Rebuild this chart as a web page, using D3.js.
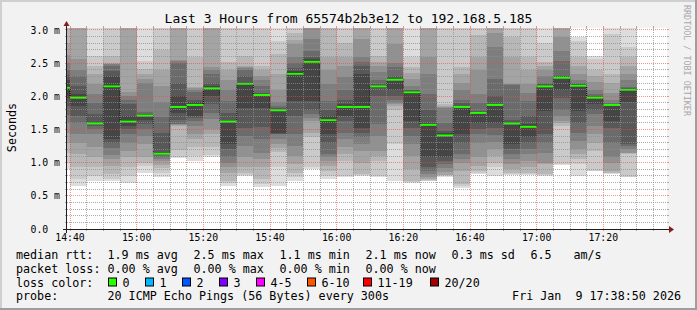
<!DOCTYPE html>
<html><head><meta charset="utf-8">
<script src="https://cdn.jsdelivr.net/npm/d3@7/dist/d3.min.js"></script>
<style>
html,body{margin:0;padding:0;background:#f2f2f2;}
svg{display:block;}
text{font-family:"DejaVu Sans Mono",monospace;white-space:pre;}
</style></head><body>
<script>
// ---------------- data ----------------
const title = "Last 3 Hours from 65574b2b3e12 to 192.168.5.185";
const windowStart = new Date(2026,0,9,14,39,6);
const windowEnd   = new Date(2026,0,9,17,39,6);
const firstBar    = new Date(2026,0,9,14,35,0);
const stepMinutes = 5;

// median rtt per 5-minute step (ms)
const medians = [2.13,1.98,1.59,2.15,1.62,1.71,1.135,1.84,1.87,2.12,1.62,2.19,2.02,1.79,2.34,2.52,1.64,1.84,
                 1.84,2.15,2.25,2.06,1.57,1.41,1.84,1.75,1.87,1.59,1.54,2.15,2.28,2.16,1.98,1.87,2.10];

// 20 sorted ping rtts per step (ms), used for the smoke
const pings = [
[0.90,1.00,1.15,1.30,1.45,1.60,1.72,1.85,1.98,2.10,2.16,2.24,2.32,2.40,2.50,2.62,2.80,3.10,3.20,3.30],
[0.65,0.75,0.93,1.13,1.30,1.43,1.60,1.70,1.85,1.97,1.99,2.04,2.15,2.30,2.39,2.56,3.10,3.20,3.30,3.40],
[0.73,0.80,0.93,1.08,1.23,1.43,1.50,1.55,1.57,1.58,1.60,1.62,1.74,1.90,2.04,2.19,2.34,2.45,2.61,3.20],
[0.73,0.76,0.83,0.95,1.05,1.12,1.22,1.30,1.35,2.12,2.17,2.30,2.38,2.46,2.48,2.49,2.50,2.61,3.10,3.20],
[0.70,0.80,0.93,1.08,1.18,1.30,1.43,1.50,1.56,1.60,1.64,1.70,1.88,1.95,2.00,2.06,3.10,3.20,3.30,3.40],
[0.85,0.95,1.00,1.08,1.28,1.40,1.50,1.58,1.65,1.70,1.72,1.73,1.74,1.76,2.20,2.26,2.33,2.41,2.54,3.20],
[0.79,0.85,0.92,0.97,1.02,1.06,1.09,1.11,1.12,1.13,1.14,1.16,1.44,1.69,1.92,2.15,2.40,2.70,3.10,3.20],
[1.07,1.09,1.19,1.55,1.57,1.58,1.59,1.65,1.75,1.83,1.86,2.00,2.20,2.50,2.53,2.55,3.10,3.20,3.30,3.40],
[1.03,1.10,1.23,1.35,1.43,1.55,1.63,1.68,1.71,1.86,1.88,1.91,1.95,2.06,2.10,2.12,2.14,2.59,3.10,3.20],
[1.08,1.12,1.23,1.43,1.50,1.66,1.75,1.88,2.00,2.11,2.13,2.15,2.20,2.34,2.40,2.44,3.10,3.20,3.30,3.40],
[0.65,0.70,0.73,0.85,0.93,1.00,1.08,1.20,1.28,1.61,1.63,1.65,1.75,1.93,2.10,2.24,2.40,2.51,3.10,3.20],
[0.80,0.82,0.85,0.93,1.08,1.25,1.40,1.53,1.83,2.18,2.20,2.22,2.30,2.40,2.42,2.44,2.46,2.61,3.10,3.20],
[0.64,0.68,0.75,0.94,1.05,1.14,1.35,1.54,1.82,2.01,2.03,2.04,2.05,2.15,2.25,2.30,2.40,2.45,3.10,3.20],
[0.65,0.93,1.16,1.22,1.28,1.35,1.43,1.43,1.44,1.78,1.80,1.81,1.82,1.85,1.91,2.10,2.34,2.64,2.84,3.20],
[0.73,0.78,0.85,0.98,1.10,1.25,1.43,1.70,1.93,2.33,2.36,2.38,2.42,2.50,2.59,2.79,2.85,2.95,3.10,3.20],
[0.90,0.93,1.38,1.45,1.63,1.68,1.73,1.80,1.93,2.50,2.54,2.56,2.60,2.69,2.86,3.10,3.20,3.30,3.40,3.50],
[0.75,0.80,0.88,0.95,1.03,1.08,1.13,1.30,1.43,1.62,1.66,1.70,1.80,1.93,2.19,2.39,2.59,3.10,3.20,3.30],
[0.78,0.80,1.03,1.13,1.23,1.35,1.45,1.63,1.70,1.83,1.86,1.88,1.95,2.09,2.29,2.45,2.59,2.81,3.10,3.20],
[0.80,0.81,0.83,1.00,1.18,1.28,1.38,1.45,1.53,1.83,1.86,2.34,2.45,2.52,2.59,2.86,3.10,3.20,3.30,3.40],
[0.78,0.80,1.03,1.10,1.18,1.40,1.58,2.00,2.12,2.14,2.16,2.17,2.18,2.25,2.36,2.45,2.51,2.61,3.10,3.20],
[0.73,1.28,1.80,1.86,1.88,1.90,1.95,2.00,2.09,2.24,2.26,2.27,2.30,2.44,2.50,2.79,3.10,3.20,3.30,3.40],
[0.70,0.71,0.73,0.90,1.10,1.28,1.40,1.53,1.63,2.04,2.07,2.08,2.09,2.10,2.15,2.26,2.35,2.44,2.59,3.20],
[0.72,0.73,0.74,0.75,0.78,0.83,0.88,0.93,1.08,1.56,1.58,1.60,1.80,2.04,2.34,2.59,3.10,3.20,3.30,3.40],
[0.79,0.80,0.81,0.82,0.86,0.92,0.98,1.02,1.08,1.40,1.42,1.44,1.48,1.60,1.83,1.84,1.86,1.88,3.10,3.20],
[0.62,0.65,0.68,0.88,1.00,1.05,1.13,1.30,1.43,1.83,1.85,1.86,1.90,1.95,2.09,2.20,2.34,2.44,3.10,3.20],
[0.83,0.84,0.88,0.95,1.08,1.30,1.43,1.50,1.60,1.74,1.76,1.77,1.78,1.90,2.04,2.39,2.60,2.92,3.10,3.20],
[0.80,0.93,1.00,1.10,1.20,1.31,1.42,1.53,1.60,1.86,1.88,1.89,2.00,2.26,2.74,2.95,3.10,3.20,3.30,3.40],
[0.82,0.83,0.84,0.90,0.98,1.05,1.13,1.20,1.28,1.58,1.60,1.62,1.65,2.17,2.18,2.19,2.59,2.89,3.10,3.20],
[0.82,0.83,0.85,0.93,1.03,1.13,1.20,1.30,1.38,1.53,1.56,1.58,1.70,1.93,2.05,2.19,2.40,2.59,3.10,3.20],
[0.80,0.81,0.83,0.98,1.00,1.15,1.30,1.43,1.78,2.14,2.16,2.17,2.18,2.20,2.30,2.39,2.45,2.51,2.81,3.20],
[0.97,0.98,1.55,1.60,1.63,1.70,1.80,1.98,2.10,2.27,2.29,2.30,2.31,2.54,2.69,2.89,3.10,3.20,3.30,3.40],
[0.80,0.98,1.05,1.13,1.20,1.33,1.45,1.60,1.78,2.15,2.17,2.18,2.19,2.20,2.25,2.34,2.45,2.59,2.84,2.90],
[0.87,0.88,1.18,1.30,1.43,1.55,1.73,1.80,1.88,1.97,1.99,2.00,2.01,2.04,2.10,2.21,2.30,2.39,2.56,2.61],
[0.83,0.84,0.85,0.88,1.00,1.08,1.30,1.53,1.63,1.86,1.88,1.885,1.89,1.90,1.95,2.05,2.20,2.34,2.94,3.20],
[0.78,0.79,1.13,1.14,1.15,1.20,1.25,1.28,1.91,2.09,2.11,2.12,2.13,2.14,2.25,2.34,2.45,2.60,2.74,3.20]
];

const yTicks = [0,0.5,1,1.5,2,2.5,3];
const yTickLabels = ["0.0","0.5 m","1.0 m","1.5 m","2.0 m","2.5 m","3.0 m"];
const xTickLabels = ["14:40","15:00","15:20","15:40","16:00","16:20","16:40","17:00","17:20"];

const rttLabel = "median rtt:";
const rttStats = ["1.9 ms avg","2.5 ms max","1.1 ms min","2.1 ms now","0.3 ms sd"];
const amsStats = ["6.5","am/s"];
const lossLabel = "packet loss:";
const lossStats = ["0.00 % avg","0.00 % max","0.00 % min","0.00 % now"];
const lossColorLabel = "loss color:";
const lossLabels = ["0","1","2","3","4-5","6-10","11-19","20/20"];
const lossColors = ["#26ff00","#00b8ff","#0059ff","#7e00ff","#ff00ff","#ff5500","#ff0000","#a10000"];
const probeLabel = "probe:";
const probeText = "20 ICMP Echo Pings (56 Bytes) every 300s";
const stamp = "Fri Jan  9 17:38:50 2026";
const watermark = "RRDTOOL / TOBI OETIKER";
const unitLabel = "Seconds";

// ---------------- layout / style ----------------
const W = 697, H = 310;
const P = {l:67, r:667, t:28, b:229};
const SMOKE = ["#dddddd","#cacaca","#b7b7b7","#a4a4a4","#919191","#7e7e7e","#6b6b6b","#585858","#454545","#323232"];
const GRID = "rgba(143,143,143,0.75)", MGRID = "rgba(222,79,79,0.6)";
const AXIS = "#1f1f1f", ARROW = "#801f1f";

const svg = d3.select("body").append("svg").attr("width", W).attr("height", H);
svg.append("rect").attr("width", W).attr("height", H).attr("fill", "#f2f2f2");
// shade borders
svg.append("path").attr("d", `M0,0H${W}V2H2V${H}H0Z`).attr("fill", "#cfcfcf");
svg.append("path").attr("d", `M${W},0V${H}H0V${H-2}H${W-2}V0Z`).attr("fill", "#9e9e9e");

const x = d3.scaleTime().domain([windowStart, windowEnd]).range([P.l, P.r]);
const y = d3.scaleLinear().domain([0, 3.03]).range([P.b, P.t]);

svg.append("rect").attr("x", P.l).attr("y", P.t).attr("width", P.r-P.l).attr("height", P.b-P.t).attr("fill", "#fff");
svg.append("clipPath").attr("id","clip").append("rect")
  .attr("x", P.l).attr("y", P.t).attr("width", P.r-P.l).attr("height", P.b-P.t);

const bars = pings.map((p,i)=>({
  t0: d3.timeMinute.offset(firstBar, i*stepMinutes),
  t1: d3.timeMinute.offset(firstBar, (i+1)*stepMinutes),
  p, m: medians[i]
}));

const plot = svg.append("g").attr("clip-path","url(#clip)");
// smoke layers
bars.forEach(b=>{
  for (let i=0;i<10;i++){
    const lo = b.p[i], hi = b.p[19-i];
    plot.append("rect")
      .attr("x", x(b.t0)).attr("width", x(b.t1)-x(b.t0))
      .attr("y", y(hi)).attr("height", Math.max(0, y(lo)-y(hi)))
      .attr("fill", SMOKE[i]).attr("shape-rendering","crispEdges");
  }
});

// grid
const gridG = svg.append("g").attr("shape-rendering","crispEdges");
const minorX = d3.timeMinute.every(5).range(windowStart, windowEnd);
const isMajorT = d => d.getMinutes() % 20 === 0;
const px = v => Math.floor(v) + 0.5;
minorX.forEach(d=>{
  const xx = px(x(d)), c = isMajorT(d) ? MGRID : GRID;
  gridG.append("line").attr("x1",xx).attr("x2",xx).attr("y1",P.t).attr("y2",P.b)
    .attr("stroke", c).attr("stroke-dasharray","1,1");
  gridG.append("line").attr("x1",xx).attr("x2",xx).attr("y1",P.b).attr("y2",P.b+2).attr("stroke",c);
  gridG.append("line").attr("x1",xx).attr("x2",xx).attr("y1",P.t-2).attr("y2",P.t).attr("stroke",c);
});
const minorY = d3.range(1, 31).map(i=>i/10);
minorY.forEach(v=>{
  const major = Math.round(v*10) % 5 === 0;
  const yy = px(y(v)), c = major ? MGRID : GRID;
  gridG.append("line").attr("x1",P.l).attr("x2",P.r).attr("y1",yy).attr("y2",yy)
    .attr("stroke", c).attr("stroke-dasharray","1,1");
  gridG.append("line").attr("x1",P.l-2).attr("x2",P.l).attr("y1",yy).attr("y2",yy).attr("stroke",c);
  gridG.append("line").attr("x1",P.r).attr("x2",P.r+2).attr("y1",yy).attr("y2",yy).attr("stroke",c);
});

// median connector (dotted step) + median segments
const stepPts = bars.map(b=>[x(b.t0), y(b.m)]);
stepPts.push([x(bars[bars.length-1].t1), y(bars[bars.length-1].m)]);
plot.append("path").attr("d", d3.line().curve(d3.curveStepAfter)(stepPts))
  .attr("fill","none").attr("stroke","#000").attr("stroke-width",1).attr("stroke-dasharray","1,1");
bars.forEach(b=>{
  plot.append("line").attr("x1", x(b.t0)).attr("x2", x(b.t1))
    .attr("y1", y(b.m)).attr("y2", y(b.m))
    .attr("stroke", lossColors[0]).attr("stroke-width", 2);
});

// axes
svg.append("line").attr("x1",P.l-4).attr("x2",P.r+4).attr("y1",P.b+0.5).attr("y2",P.b+0.5).attr("stroke",AXIS);
svg.append("line").attr("x1",P.l-0.5).attr("x2",P.l-0.5).attr("y1",P.b+4).attr("y2",P.t-3).attr("stroke",AXIS);
svg.append("path").attr("d",`M${P.l-3.5},${P.t-2}L${P.l-0.5},${P.t-7}L${P.l+2.5},${P.t-2}Z`).attr("fill",ARROW);
svg.append("path").attr("d",`M${P.r+2},${P.b-3}L${P.r+7},${P.b+0.5}L${P.r+2},${P.b+4}Z`).attr("fill",ARROW);

// y tick labels
yTicks.forEach((v,i)=>{
  svg.append("text").attr("x",30.5).attr("y",y(v)+3.6).attr("font-size","9.8px").attr("fill","#000").text(yTickLabels[i]);
});
// x tick labels
const xMajor = d3.timeMinute.every(20).range(windowStart, windowEnd);
xMajor.forEach((d,i)=>{
  if (i < xTickLabels.length)
    svg.append("text").attr("x",x(d)).attr("y",241).attr("text-anchor","middle")
      .attr("font-size","9.8px").text(xTickLabels[i]);
});

// title
svg.append("text").attr("x",348.5).attr("y",23).attr("text-anchor","middle").attr("font-size","13px").text(title);
// unit label
svg.append("text").attr("transform","translate(15.5,127.5) rotate(-90)").attr("text-anchor","middle")
  .attr("font-size","11.7px").text(unitLabel);
// watermark
svg.append("text").attr("transform","translate(684,5) rotate(90)").attr("font-size","8.4px")
  .attr("fill","#a8a8a8").text(watermark);

// legend
const LF = "11.7px";
const rows = [258.5, 272.5, 286.5, 300];
const cols = [107.5, 193.5, 279.5, 365.5, 451.5];
const lt = (xx,yy,s,anchor)=>svg.append("text").attr("x",xx).attr("y",yy).attr("font-size",LF)
  .attr("text-anchor",anchor||"start").text(s);
lt(16, rows[0], rttLabel);
rttStats.forEach((s,i)=>lt(cols[i], rows[0], s));
lt(530.5, rows[0], amsStats[0]); lt(573.5, rows[0], amsStats[1]);
lt(16, rows[1], lossLabel);
lossStats.forEach((s,i)=>lt(cols[i], rows[1], s));
lt(16, rows[2], lossColorLabel);
const boxX = [108,145,182,219,256,307,363,430];
lossLabels.forEach((s,i)=>{
  svg.append("rect").attr("x",boxX[i]+0.5).attr("y",rows[2]-8.5).attr("width",8).attr("height",8)
    .attr("fill",lossColors[i]).attr("stroke","#000").attr("stroke-width",1);
  lt(boxX[i]+14.5, rows[2], s);
});
lt(16, rows[3], probeLabel);
lt(107.5, rows[3], probeText);
lt(681, rows[3], stamp, "end");
</script>
</body></html>
